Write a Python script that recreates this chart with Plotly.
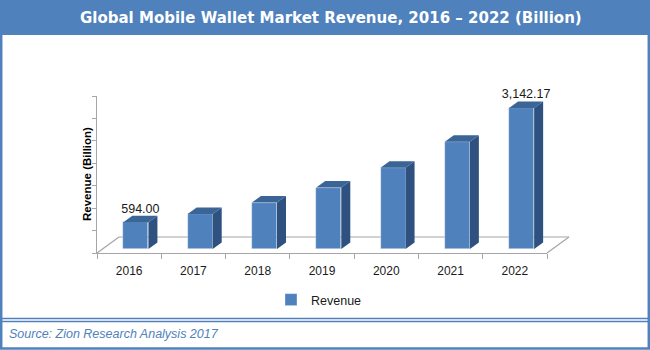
import plotly.graph_objects as go

# ---------------- data ----------------
years = ["2016", "2017", "2018", "2019", "2020", "2021", "2022"]
revenue = [594.00, 780.0, 1035.0, 1370.0, 1810.0, 2390.0, 3142.17]
series_name = "Revenue"
title_text = "Global Mobile Wallet Market Revenue, 2016 \u2013 2022 (Billion)"
y_title = "Revenue (Billion)"
source_text = "Source: Zion Research Analysis 2017"

# ---------------- style / geometry ----------------
FIG_W, FIG_H = 650, 350
ML, MR, MT, MB = 97, 103, 96, 97
PW, PH = FIG_W - ML - MR, FIG_H - MT - MB
YMAX = 3500
BLUE = "#4F81BD"
TOP_C = "#3B6497"
SIDE_C = "#2F5180"
GRAY = "#A6A6A6"

BAR_W = 0.39
BAR_OFF = -0.09
BASE = 90          # fake 3D floor lift (data units)
DX = 0.14          # depth in x units
DY = 145           # depth in y units

xs = list(range(len(years)))
tops = [BASE + v for v in revenue]


def px_x(px):
    return (px - ML) / PW


def px_y(py):
    return (FIG_H - MB - py) / PH


fig = go.Figure()

fig.add_trace(go.Bar(
    x=xs, y=revenue, base=BASE, width=BAR_W, offset=BAR_OFF,
    name=series_name, marker=dict(color=BLUE, line=dict(color="rgba(255,255,255,0.6)", width=0.6)),
    showlegend=True,
))

# side and top faces of the pseudo-3D bars
sx, sy, tx, ty = [], [], [], []
for i, t in zip(xs, tops):
    xl = i + BAR_OFF
    xr = xl + BAR_W
    sx += [xr, xr + DX, xr + DX, xr, xr, None]
    sy += [BASE, BASE + DY, t + DY, t, BASE, None]
    tx += [xl, xl + DX, xr + DX, xr, xl, None]
    ty += [t, t + DY, t + DY, t, t, None]

fig.add_trace(go.Scatter(x=sx, y=sy, mode="lines", fill="toself", fillcolor=SIDE_C,
                         line=dict(width=0), showlegend=False, hoverinfo="skip"))
fig.add_trace(go.Scatter(x=tx, y=ty, mode="lines", fill="toself", fillcolor=TOP_C,
                         line=dict(width=0), showlegend=False, hoverinfo="skip"))

labels = [f"{v:,.2f}" if i in (0, len(revenue) - 1) else "" for i, v in enumerate(revenue)]
fig.add_trace(go.Scatter(
    x=[i + BAR_OFF + BAR_W / 2 + DX / 2 for i in xs], y=[t + DY for t in tops],
    mode="text", text=labels, textposition="top center",
    textfont=dict(family="Liberation Sans", size=12.5, color="#1a1a1a"),
    showlegend=False, hoverinfo="skip", cliponaxis=False,
))

shapes = [
    # title bar
    dict(type="rect", xref="paper", yref="paper", x0=px_x(0), x1=px_x(FIG_W), y0=px_y(35), y1=px_y(0),
         fillcolor=BLUE, line=dict(width=0), layer="below"),
    # floor lines
    dict(type="line", xref="paper", yref="paper", x0=px_x(119), x1=px_x(569), y0=px_y(237), y1=px_y(237),
         line=dict(color=GRAY, width=1.2), layer="below"),
    dict(type="line", xref="paper", yref="paper", x0=px_x(97), x1=px_x(119), y0=px_y(253), y1=px_y(237),
         line=dict(color=GRAY, width=1.2), layer="below"),
    dict(type="line", xref="paper", yref="paper", x0=px_x(547), x1=px_x(569), y0=px_y(253), y1=px_y(237),
         line=dict(color=GRAY, width=1.2), layer="below"),
    # separator double line
    dict(type="line", xref="paper", yref="paper", x0=px_x(0), x1=px_x(FIG_W), y0=px_y(318.5), y1=px_y(318.5),
         line=dict(color=BLUE, width=1.5), layer="above"),
    dict(type="line", xref="paper", yref="paper", x0=px_x(0), x1=px_x(FIG_W), y0=px_y(321.5), y1=px_y(321.5),
         line=dict(color=BLUE, width=1.5), layer="above"),
    # outer border
    dict(type="rect", xref="paper", yref="paper", x0=px_x(1.2), x1=px_x(FIG_W - 1.2), y0=px_y(FIG_H - 1.5), y1=px_y(1),
         line=dict(color=BLUE, width=2.5), fillcolor="rgba(0,0,0,0)", layer="above"),
]

annotations = [
    dict(text=f"<b>{title_text}</b>", xref="paper", yref="paper", x=px_x(331), y=px_y(18),
         xanchor="center", yanchor="middle", showarrow=False,
         font=dict(family="DejaVu Sans", size=15, color="white")),
    dict(text=f"<b>{y_title}</b>", xref="paper", yref="paper", x=px_x(87), y=px_y(174),
         xanchor="center", yanchor="middle", showarrow=False, textangle=-90,
         font=dict(family="Liberation Sans", size=11.5, color="black")),
    dict(text=f"<i>{source_text}</i>", xref="paper", yref="paper", x=px_x(7), y=px_y(334),
         xanchor="left", yanchor="middle", showarrow=False,
         font=dict(family="Liberation Sans", size=12.5, color=BLUE)),
]

fig.update_layout(
    width=FIG_W, height=FIG_H,
    margin=dict(l=ML, r=MR, t=MT, b=MB),
    paper_bgcolor="white", plot_bgcolor="white",
    shapes=shapes, annotations=annotations,
    bargap=0,
    legend=dict(orientation="h", x=px_x(319), y=px_y(300), xanchor="center", yanchor="middle",
                font=dict(family="Liberation Sans", size=12.5, color="#1a1a1a"),
                itemwidth=30, bgcolor="rgba(0,0,0,0)"),
    xaxis=dict(range=[-0.5, 6.5], tickmode="array", tickvals=xs, ticktext=years,
               ticks="outside", ticklen=6, tickcolor="rgba(0,0,0,0)",
               showline=True, linecolor=GRAY, linewidth=1.2, showgrid=False, zeroline=False,
               tickfont=dict(family="Liberation Sans", size=12, color="#1a1a1a"),
               minor=dict(tickmode="array", tickvals=[i - 0.5 for i in range(len(years) + 1)],
                          ticks="outside", ticklen=5, tickcolor=GRAY, tickwidth=1, showgrid=False),
               fixedrange=True),
    yaxis=dict(range=[0, YMAX], tickmode="linear", tick0=0, dtick=500,
               ticks="outside", ticklen=4, tickcolor=GRAY, showticklabels=False,
               showline=True, linecolor=GRAY, linewidth=1.2, showgrid=False, zeroline=False,
               fixedrange=True),
)

fig.write_html("out.html")
